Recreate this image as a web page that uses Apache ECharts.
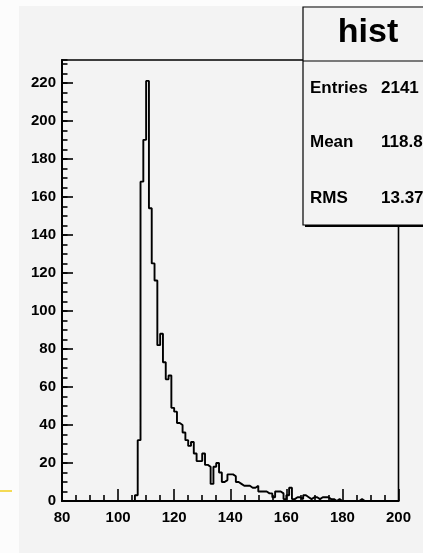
<!DOCTYPE html>
<html>
<head>
<meta charset="utf-8">
<script src="https://cdn.jsdelivr.net/npm/echarts@6/dist/echarts.min.js"></script>
<style>
  html, body { margin: 0; padding: 0; background: #fcfcfc; }
  #chart { width: 423px; height: 553px; }
</style>
</head>
<body>
<div id="chart"></div>
<script>
// Histogram binning: 120 bins of width 1 between 80 and 200
const binLow = 80;
const binHigh = 200;
const binWidth = 1;

// Bin contents, one per bin starting at x = 80
const binCounts = [
  0, 0, 0, 0, 0, 0, 0, 0, 0, 0,          // 80-89
  0, 0, 0, 0, 0, 0, 0, 0, 0, 0,          // 90-99
  0, 0, 0, 0, 0, 0, 3, 32, 168, 190,     // 100-109
  221, 154, 125, 116, 82, 88, 73, 64, 66, 49,  // 110-119
  47, 41, 40, 36, 32, 29, 31, 25, 21, 21,      // 120-129
  25, 19, 18, 9, 18, 20, 15, 10, 11, 14,       // 130-139
  14, 13, 10, 9, 8, 8, 8, 7, 7, 8,             // 140-149
  5, 5, 5, 4, 4, 2, 5, 5, 4, 1,                // 150-159
  3, 7, 1, 2, 2, 1, 3, 2, 1, 2,                // 160-169
  2, 1, 2, 2, 2, 1, 1, 0, 1, 0,                // 170-179
  0, 0, 0, 0, 0, 0, 1, 0, 0, 0,                // 180-189
  0, 0, 0, 0, 0, 0, 0, 0, 0, 0                 // 190-199
];

// Axis ranges and tick spacing
const yMax = 232;
const xMajorStep = 20;
const yMajorStep = 20;
const yMinorStep = 5;

// Statistics box
const histName = 'hist';
const statLabels = ['Entries', 'Mean', 'RMS'];
const statValues = ['2141', '118.8', '13.37'];

// Step outline: each point is a bin's low edge, closed at the upper range edge
const outline = binCounts.map((c, i) => [binLow + i * binWidth, c]);
outline.push([binHigh, binCounts[binCounts.length - 1]]);

const font = 'Liberation Sans, Arial, Helvetica, sans-serif';
const padColor = '#f3f3f3';

const statRowsY = [88, 142.5, 198.5];
const statGraphics = [];
statLabels.forEach((lab, i) => {
  statGraphics.push({
    type: 'text', x: 310, y: statRowsY[i], z: 120,
    style: { text: lab, fill: '#000', font: 'bold 17px ' + font, textAlign: 'left', textVerticalAlign: 'middle' }
  });
  statGraphics.push({
    type: 'text', x: 381, y: statRowsY[i], z: 120,
    style: { text: statValues[i], fill: '#000', font: 'bold 17px ' + font, textAlign: 'left', textVerticalAlign: 'middle' }
  });
});

const chart = echarts.init(document.getElementById('chart'), null, { renderer: 'canvas' });
chart.setOption({
  animation: false,
  backgroundColor: padColor,
  grid: {
    left: 62, right: 24.5, top: 60, bottom: 52,
    show: true, borderColor: '#000', borderWidth: 1.6, backgroundColor: 'transparent'
  },
  xAxis: {
    type: 'value', min: binLow, max: binHigh, interval: xMajorStep,
    axisLine: { show: true, onZero: false, lineStyle: { color: '#000', width: 2 } },
    axisTick: { show: true, inside: true, length: 12, lineStyle: { color: '#000', width: 1.6 } },
    minorTick: { show: true, splitNumber: 4, length: 6, lineStyle: { color: '#000', width: 1.6 } },
    axisLabel: { color: '#000', fontFamily: font, fontWeight: 'bold', fontSize: 15, margin: 9 },
    splitLine: { show: false }
  },
  yAxis: [
    {
      type: 'value', min: 0, max: yMax, interval: yMajorStep,
      axisLine: { show: true, lineStyle: { color: '#000', width: 2 } },
      axisTick: { show: true, inside: true, length: 11, lineStyle: { color: '#000', width: 1.6 } },
      axisLabel: { color: '#000', fontFamily: font, fontWeight: 'bold', fontSize: 15, margin: 6, showMaxLabel: false },
      splitLine: { show: false }
    },
    {
      type: 'value', min: 0, max: yMax, interval: yMinorStep, position: 'left',
      axisLine: { show: false },
      axisTick: { show: true, inside: true, length: 5.5, lineStyle: { color: '#000', width: 1.6 } },
      axisLabel: { show: false },
      splitLine: { show: false }
    }
  ],
  series: [{
    type: 'line',
    name: histName,
    data: outline,
    step: 'end',
    showSymbol: false,
    symbol: 'none',
    lineStyle: { color: '#000', width: 1.9 },
    z: 5
  }],
  graphic: [
    // light margin around the pad
    { type: 'rect', z: 90, shape: { x: 0, y: 0, width: 423, height: 6 }, style: { fill: '#fcfcfc' } },
    { type: 'rect', z: 90, shape: { x: 0, y: 0, width: 19, height: 553 }, style: { fill: '#fcfcfc' } },
    { type: 'line', z: 91, shape: { x1: 0, y1: 491, x2: 12, y2: 491 }, style: { stroke: '#f2cf1d', lineWidth: 1.5 } },
    // statistics box with drop shadow
    { type: 'rect', z: 100, shape: { x: 305, y: 9, width: 140, height: 218 }, style: { fill: '#000' } },
    { type: 'rect', z: 101, shape: { x: 303, y: 7, width: 140, height: 218 }, style: { fill: padColor, stroke: '#000', lineWidth: 1.2 } },
    { type: 'line', z: 102, shape: { x1: 303, y1: 61, x2: 423, y2: 61 }, style: { stroke: '#000', lineWidth: 1.2 } },
    {
      type: 'text', x: 368, y: 32.5, z: 120,
      style: { text: histName, fill: '#000', font: 'bold 34px ' + font, textAlign: 'center', textVerticalAlign: 'middle' }
    },
    ...statGraphics
  ]
});
</script>
</body>
</html>
